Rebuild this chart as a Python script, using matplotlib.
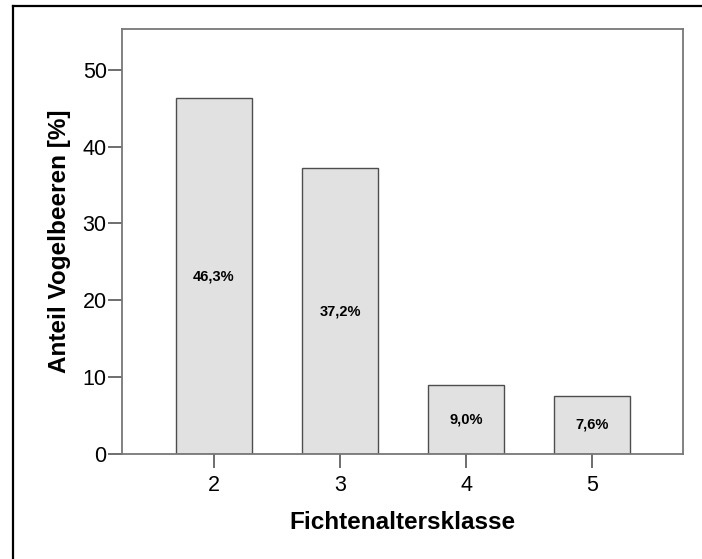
import matplotlib.pyplot as plt
from matplotlib.lines import Line2D

plt.rcParams['font.family'] = ['Liberation Sans', 'DejaVu Sans']

klassen = [2, 3, 4, 5]
anteile = [46.3, 37.2, 9.0, 7.6]
beschriftungen = ['46,3%', '37,2%', '9,0%', '7,6%']

fig = plt.figure(figsize=(7.02, 5.59), dpi=100)
ax = fig.add_axes([0.1738, 0.1878, 0.7991, 0.7603])

balken = ax.bar(klassen, anteile, width=0.6, color='#e1e1e1',
                edgecolor='#4d4d4d', linewidth=1.0)
for b, txt in zip(balken, beschriftungen):
    ax.text(b.get_x() + b.get_width() / 2, b.get_height() / 2, txt,
            ha='center', va='center', fontsize=10.5, fontweight='bold')

ax.set_xlim(1.27, 5.72)
ax.set_ylim(0, 55.3)
ax.set_xticks(klassen)
ax.set_yticks([0, 10, 20, 30, 40, 50])
ax.tick_params(axis='both', labelsize=15.5, length=10, width=1.2,
               color='#555555', direction='out')
ax.tick_params(axis='x', pad=5)
ax.tick_params(axis='y', pad=1)
for s in ax.spines.values():
    s.set_color('#777777')
    s.set_linewidth(1.3)

ax.set_xlabel('Fichtenaltersklasse', fontsize=17.5, fontweight='bold', labelpad=11)
ax.set_ylabel('Anteil Vogelbeeren [%]', fontsize=17.5, fontweight='bold', labelpad=8)

# Rahmen um das Diagramm (links und oben)
fig.add_artist(Line2D([12.5 / 702, 12.5 / 702], [0, 1 - 6 / 559],
                      transform=fig.transFigure, color='black', linewidth=1.6))
fig.add_artist(Line2D([12.5 / 702, 1], [1 - 6 / 559, 1 - 6 / 559],
                      transform=fig.transFigure, color='black', linewidth=1.6))

fig.savefig('out.png', dpi=100)
